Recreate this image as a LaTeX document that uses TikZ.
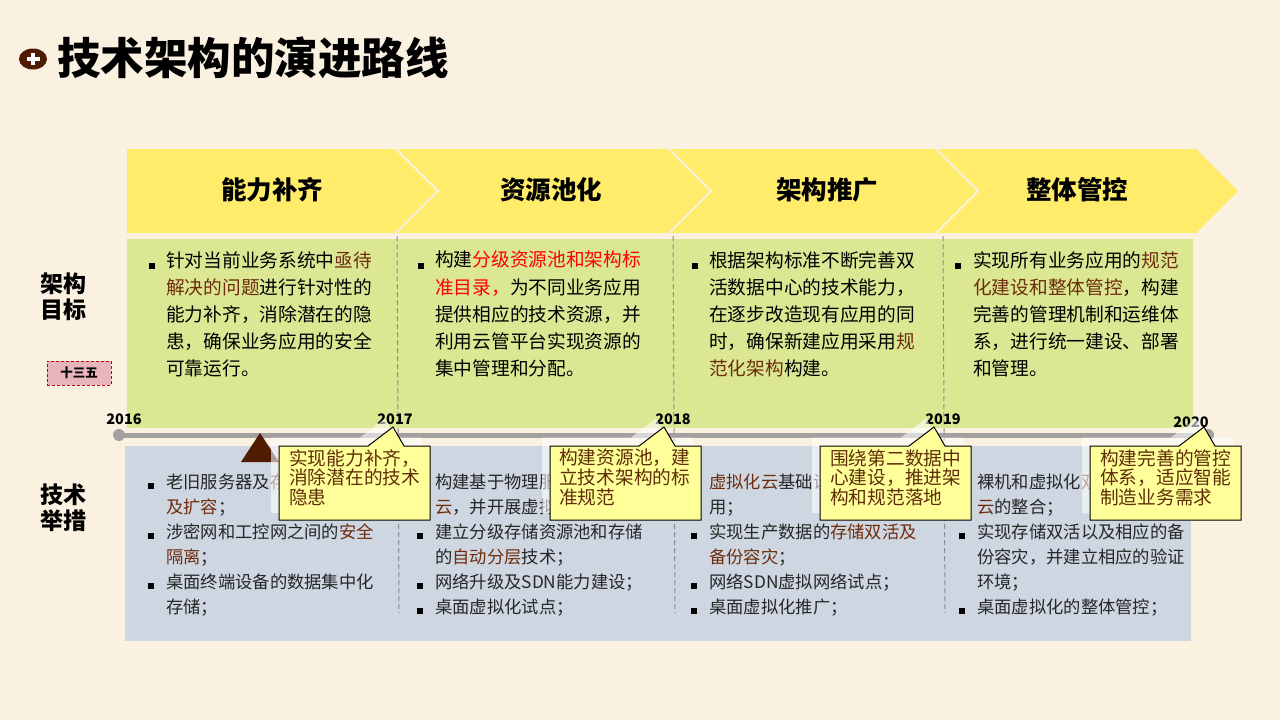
\documentclass[tikz,border=0pt]{standalone}
\usepackage{fontspec}
\setmainfont{Noto Sans CJK SC}
\usetikzlibrary{calc}
\definecolor{bgc}{HTML}{FAF1E0}
\definecolor{yel}{HTML}{FFEC6A}
\definecolor{grn}{HTML}{DBE793}
\definecolor{blu}{HTML}{CDD6E1}
\definecolor{brn}{HTML}{6E2C0C}
\definecolor{dbrn}{HTML}{4F1C02}
\definecolor{cotxt}{HTML}{5F2E08}
\definecolor{cofill}{HTML}{FFFF99}
\definecolor{tgray}{HTML}{A3A0A0}
\definecolor{dgray}{HTML}{8E8E8E}
\definecolor{pnk}{HTML}{E8B5BC}
\newcommand{\hb}[1]{\textcolor{brn}{#1}}
\newcommand{\hr}[1]{\textcolor{red}{#1}}
\tikzset{
  x=1pt,y=-1pt,
  heading/.style={font=\fontsize{25.5}{30}\selectfont\bfseries,inner sep=0pt},
  sidelabel/.style={font=\fontsize{23}{26}\selectfont\bfseries,align=center,inner sep=0pt},
  goaltext/.style={font=\fontsize{18.7}{27.2}\selectfont,align=left,anchor=north west,inner sep=0pt},
  techtext/.style={font=\fontsize{17.3}{25}\selectfont,align=left,anchor=north west,inner sep=0pt,text=black!85},
  blt/.style={fill=black,inner sep=0pt,minimum size=6pt,draw=none},
  year/.style={font=\fontsize{14.5}{16}\selectfont\bfseries,inner sep=0pt},
  cotext/.style={font=\fontsize{18.7}{19.8}\selectfont,align=left,anchor=north west,inner sep=0pt,text=cotxt},
  cobox/.style={fill=cofill,draw=black,line width=1pt},
  coshade/.style={fill=white,opacity=.58,draw=none},
  vdash/.style={dgray,line width=1pt,dash pattern=on 5pt off 3pt},
}
% callout: #1 left x, #2 tip x
\newcommand{\calloutpath}[2]{(#1,446) -- ({#1+89},446) -- (#2,427) -- ({#2+11},446) -- ({#1+151},446) -- ({#1+151},520) -- (#1,520) -- cycle}
\newcommand{\calloutshade}[2]{(#1-8,437.5) -- ({#1+81},437.5) -- (#2-8,418.5) -- ({#2+3},437.5) -- ({#1+143},437.5) -- ({#1+143},513) -- (#1-8,513) -- cycle}
\begin{document}
\begin{tikzpicture}
\useasboundingbox (0,0) rectangle (1280,720);
\fill[bgc] (0,0) rectangle (1280,720);

% title
\fill[dbrn] (33,59) ellipse [x radius=14,y radius=10.5];
\fill[white] (26.5,57.2) rectangle (39.5,60.8);
\fill[white] (31.2,53) rectangle (34.8,65);
\node[anchor=west,inner sep=0pt,font=\fontsize{43.5}{48}\selectfont\bfseries] (title) at (57,58) {技术架构的演进路线};

% banner arrows
\fill[yel] (127,149) -- (1196,149) -- (1238,191) -- (1196,233) -- (127,233) -- cycle;
\foreach \sx in {396,669,936}
  \draw[bgc,line width=2pt] (\sx,149) -- (\sx+42,191) -- (\sx,233);
\node[heading] (h1) at (272,190) {能力补齐};
\node[heading] (h2) at (551,190) {资源池化};
\node[heading] (h3) at (827,190) {架构推广};
\node[heading] (h4) at (1077,190) {整体管控};

% panels
\fill[grn] (127,239) rectangle (1193,428);
\fill[blu] (125,446) rectangle (1191,641);

% side labels
\node[sidelabel] (s1) at (63,297) {架构\\目标};
\node[sidelabel] (s2) at (63,508) {技术\\举措};
\node[draw=red!75!black,densely dashed,fill=pnk,minimum width=64pt,minimum height=24pt,inner sep=0pt,font=\fontsize{12.5}{14}\selectfont\bfseries] (plan) at (79,373) {十三五};

% goal texts
\foreach \bx/\bn in {152/a,421/b,695/c,958/d}
  \node[blt] (g\bn) at (\bx,266) {};
\node[goaltext] (g1) at (166,251) {针对当前业务系统中\hb{亟待}\\\hb{解决的问题}进行针对性的\\能力补齐，消除潜在的隐\\患，确保业务应用的安全\\可靠运行。};
\node[goaltext] (g2) at (435,251) {构建\hr{分级资源池和架构标}\\\hr{准目录，}为不同业务应用\\提供相应的技术资源，并\\利用云管平台实现资源的\\集中管理和分配。};
\node[goaltext] (g3) at (709,251) {根据架构标准不断完善双\\活数据中心的技术能力，\\在逐步改造现有应用的同\\时，确保新建应用采用\hb{规}\\\hb{范化架构}构建。};
\node[goaltext] (g4) at (973,251) {实现所有业务应用的\hb{规范}\\\hb{化建设和整体管控}，构建\\完善的管理机制和运维体\\系，进行统一建设、部署\\和管理。};

% tech texts
\node[techtext] (t1) at (166,473.5) {老旧服务器及\hb{存}\\\hb{及扩容}；\\涉密网和工控网之间的\hb{安全}\\\hb{隔离}；\\桌面终端设备的数据集中化\\存储；};
\node[techtext] (t2) at (435,473.5) {构建基于物理服\\\hb{云}，并开展虚拟\\建立分级存储资源池和存储\\的\hb{自动分层}技术；\\网络升级及SDN能力建设；\\桌面虚拟化试点；};
\node[techtext] (t3) at (709,473.5) {\hb{虚拟化云}基础设\\用；\\实现生产数据的\hb{存储双活及}\\\hb{备份容灾}；\\网络SDN虚拟网络试点；\\桌面虚拟化推广；};
\node[techtext] (t4) at (977,473.5) {裸机和虚拟化\hb{双}\\\hb{云}的整合；\\实现存储双活以及相应的备\\份容灾，并建立相应的验证\\环境；\\桌面虚拟化的整体管控；};
\foreach \bx/\by/\bn in {151/486/a,151/536/b,151/586/c,420/536/d,420/586/e,420/611/f,694/536/g,694/586/h,694/611/i,962/536/j,962/611/k}
  \node[blt,minimum size=5.5pt] (b\bn) at (\bx,\by) {};

% dashed dividers
\coordinate (d1a) at (397,236); \coordinate (d1b) at (399,613);
\coordinate (d2a) at (673,236); \coordinate (d2b) at (675,613);
\coordinate (d3a) at (943,236); \coordinate (d3b) at (945,613);
\draw[vdash] (d1a) -- (d1b);
\draw[vdash] (d2a) -- (d2b);
\draw[vdash] (d3a) -- (d3b);

% timeline
\coordinate (tl1) at (119,435); \coordinate (tl2) at (1208,435);
\draw[tgray,line width=5pt] (tl1) -- (tl2);
\fill[tgray] (tl1) circle (6);
\fill[tgray] (tl2) circle (6);
\fill[dbrn] (260,433) -- (279,462) -- (241,462) -- cycle;
\node[year] (y16) at (124,419) {2016};
\node[year] (y17) at (395,419) {2017};
\node[year] (y18) at (673,419) {2018};
\node[year] (y19) at (943,419) {2019};
\node[year] (y20) at (1191,422) {2020};

% callouts
\foreach \cx/\tx in {279/393,550/664,820/934,1090/1204}{
  \fill[coshade] \calloutshade{\cx}{\tx};
  \draw[cobox,line join=miter] \calloutpath{\cx}{\tx};
}
\node[cotext] (c1) at (289,449) {实现能力补齐，\\消除潜在的技术\\隐患};
\node[cotext] (c2) at (559,449) {构建资源池，建\\立技术架构的标\\准规范};
\node[cotext] (c3) at (830,449) {围绕第二数据中\\心建设，推进架\\构和规范落地};
\node[cotext] (c4) at (1100,449) {构建完善的管控\\体系，适应智能\\制造业务需求};
\end{tikzpicture}
\end{document}
